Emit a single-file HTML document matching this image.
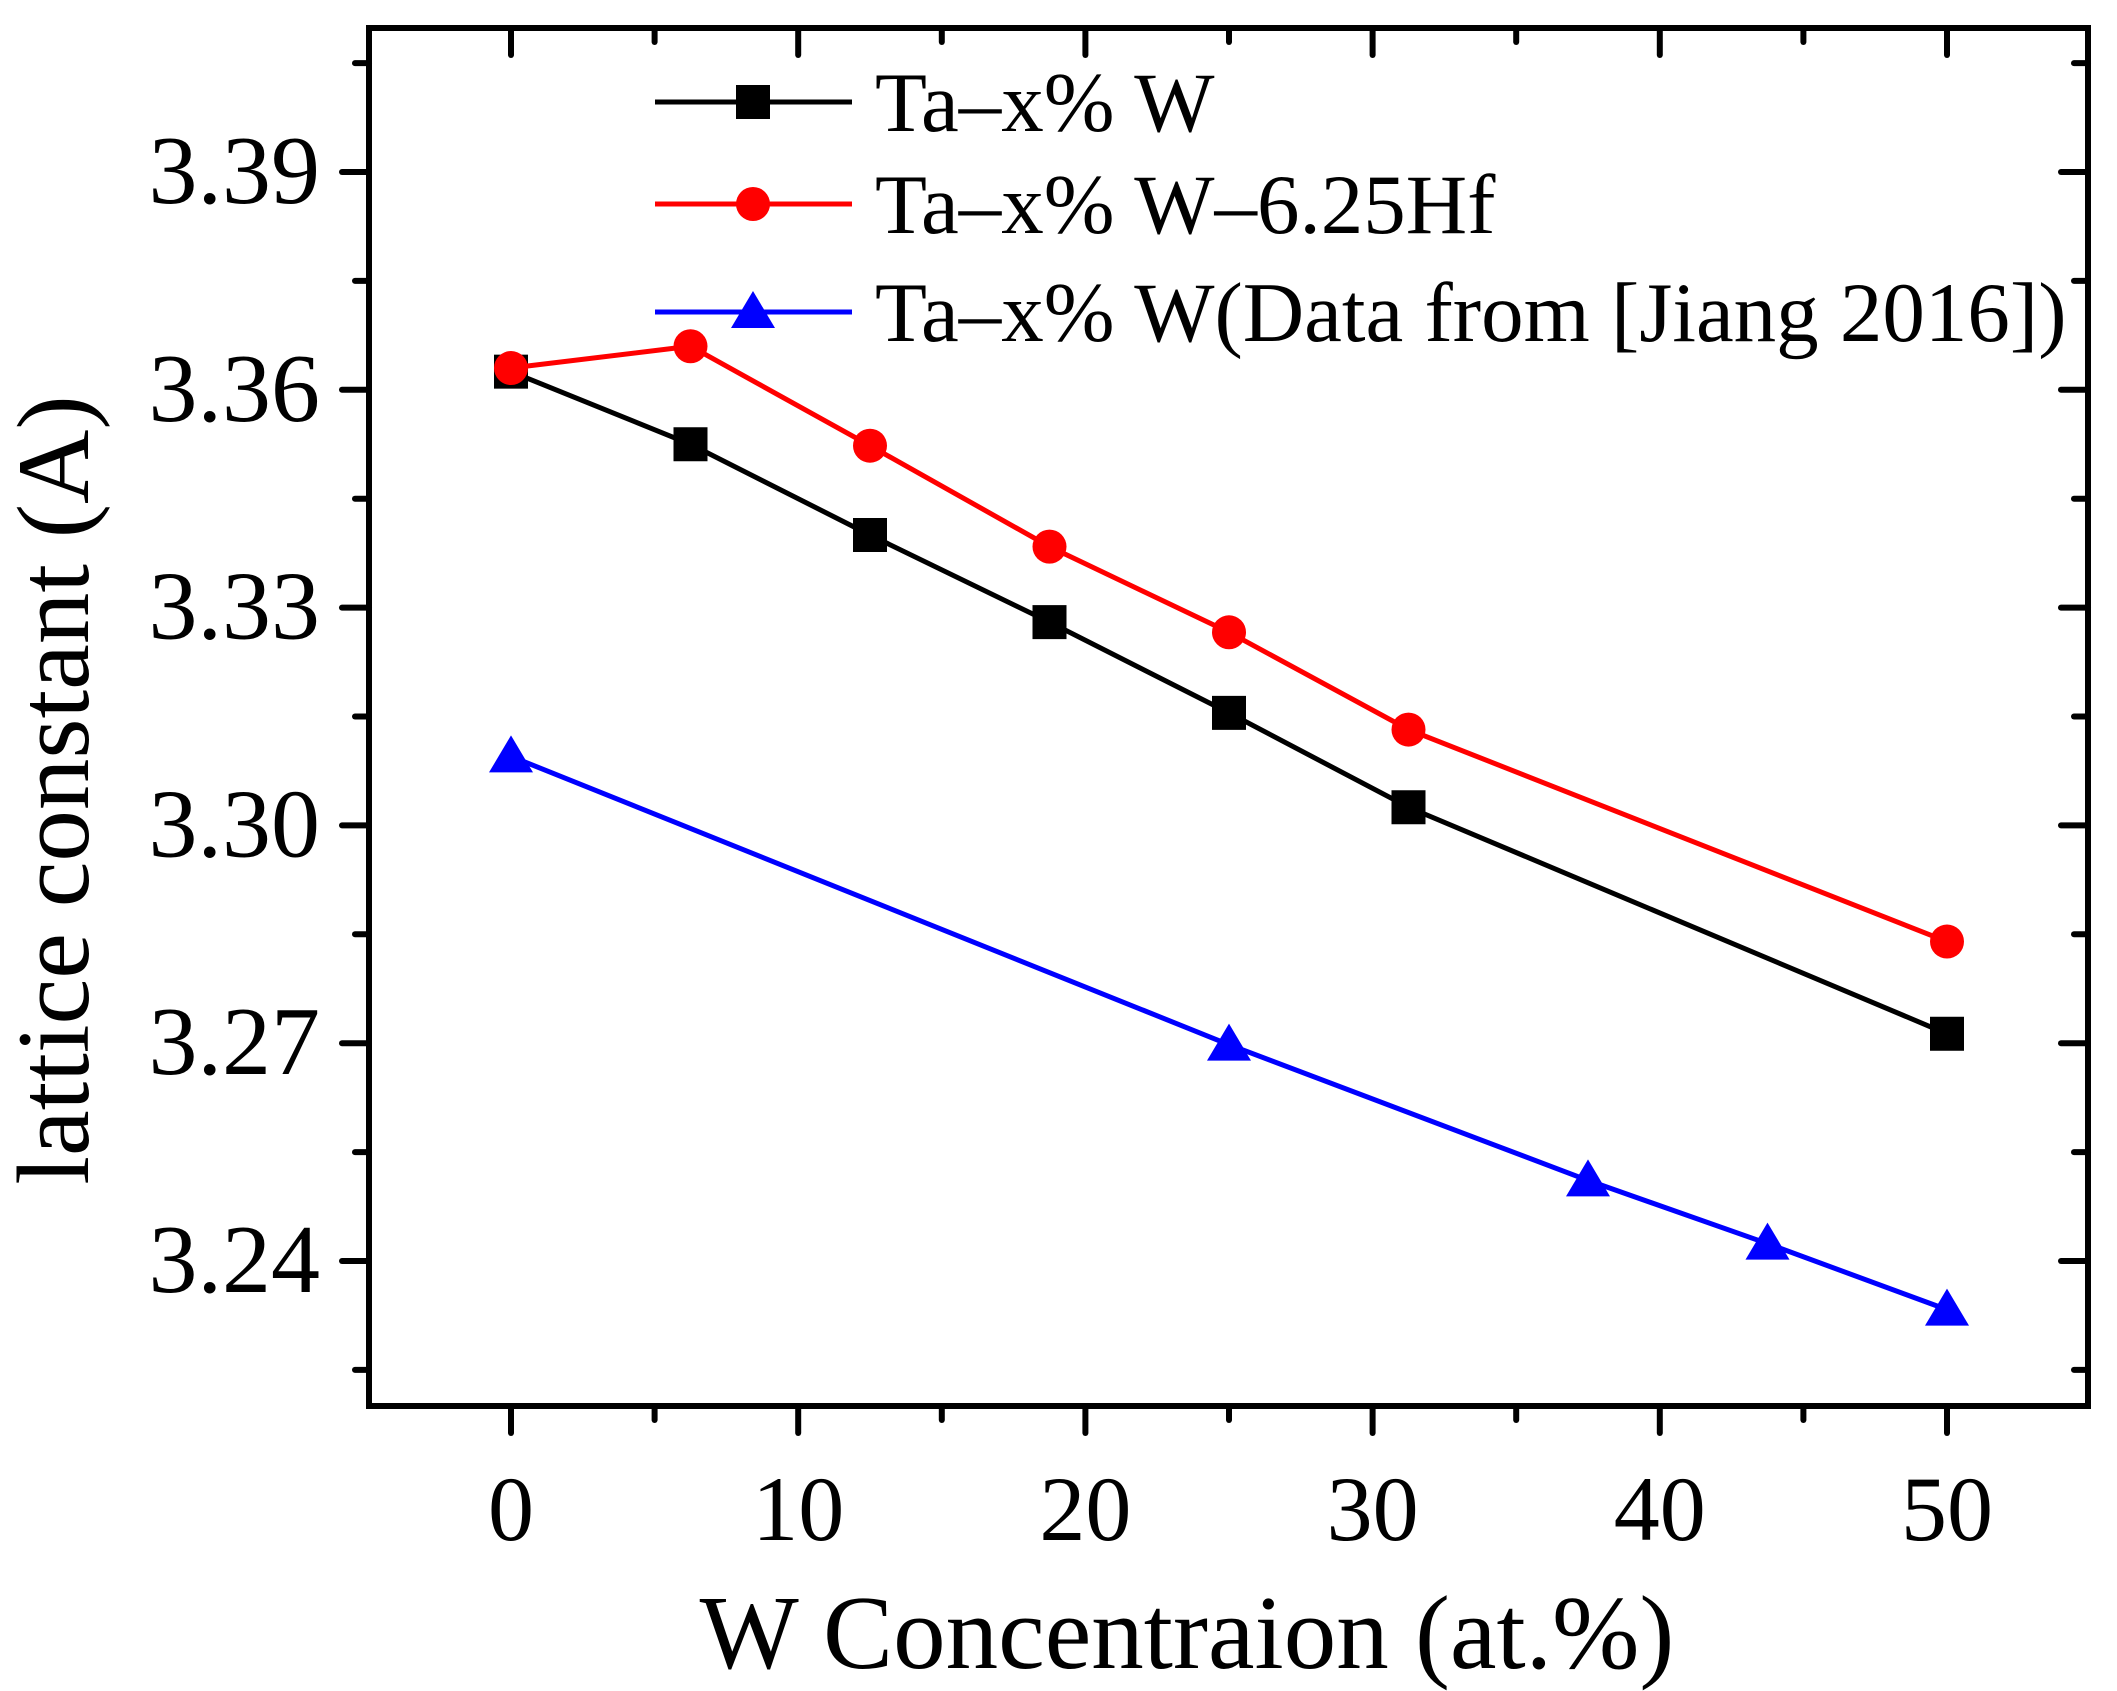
<!DOCTYPE html>
<html><head><meta charset="utf-8"><style>body{margin:0;background:#fff}svg{display:block}text{font-family:"Liberation Serif",serif}</style></head>
<body>
<svg id="c" width="2117" height="1691" viewBox="0 0 2117 1691" xmlns="http://www.w3.org/2000/svg"></svg>
<script>
const xTicks=[0,10,20,30,40,50];
const yTicks=[3.24,3.27,3.30,3.33,3.36,3.39];
const yTickLabels=["3.24","3.27","3.30","3.33","3.36","3.39"];
const xBlack=[0,6.25,12.5,18.75,25,31.25,50];
const yBlack=[3.3625,3.3525,3.340,3.328,3.3155,3.3025,3.2713];
const xRed=[0,6.25,12.5,18.75,25,31.25,50];
const yRed=[3.363,3.366,3.3523,3.3384,3.3266,3.3132,3.284];
const xBlue=[0,25,37.5,43.75,50];
const yBlue=[3.3095,3.2698,3.2511,3.2424,3.2333];
const legendLabels=["Ta\u2013x% W","Ta\u2013x% W\u20136.25Hf","Ta\u2013x% W(Data from [Jiang 2016])"];

const svg=document.getElementById('c');const NS='http://www.w3.org/2000/svg';
const L=369,R=2088,T=28,B=1406;
const X=v=>511+v*28.72;
const Y=v=>172+(3.39-v)/0.03*217.8;
function mk(t,a,p){const e=document.createElementNS(NS,t);for(const k in a)e.setAttribute(k,a[k]);(p||svg).appendChild(e);return e;}
const ax=mk('g',{});


const frame=mk('rect',{x:L,y:T,width:R-L,height:B-T,fill:'none',stroke:'#000','stroke-width':6},ax);


for(let v=-5;v<=55;v+=5){const x=X(v);if(x<L-1||x>R+1)continue;const maj=v%10===0;const len=maj?27:14;
mk('line',{x1:x,y1:B,x2:x,y2:B+len,stroke:'#000','stroke-width':6,'stroke-linecap':'round'},ax);
mk('line',{x1:x,y1:T,x2:x,y2:T+len,stroke:'#000','stroke-width':6,'stroke-linecap':'round'},ax);}
xTicks.forEach(v=>{const t=mk('text',{x:X(v),y:1540,'font-size':92,'text-anchor':'middle'},ax);t.textContent=String(v);

});
for(let i=-3;i<=16;i++){const v=3.24+i*0.015;const y=Y(v);if(y<T-1||y>B+1)continue;const maj=i%2===0;const len=maj?27:14;
mk('line',{x1:L-len,y1:y,x2:L,y2:y,stroke:'#000','stroke-width':6,'stroke-linecap':'round'},ax);
mk('line',{x1:R-len,y1:y,x2:R,y2:y,stroke:'#000','stroke-width':6,'stroke-linecap':'round'},ax);}
yTicks.forEach((v,i)=>{const t=mk('text',{x:320,y:Y(v)+31,'font-size':98,'text-anchor':'end'},ax);t.textContent=yTickLabels[i];

});
const xt=mk('text',{x:1187,y:1668,'font-size':105,'text-anchor':'middle'});xt.textContent='W Concentraion (at.%)';


const yt=mk('text',{x:0,y:0,'font-size':103,'text-anchor':'middle',transform:'translate(88,790) rotate(-90)'});yt.textContent='lattice constant (A)';


function marker(kind,x,y,col,p){
 if(kind==='sq')return mk('rect',{x:x-17,y:y-17,width:34,height:34,fill:col},p);
 if(kind==='ci')return mk('circle',{cx:x,cy:y,r:17,fill:col},p);
 return mk('polygon',{points:`${x},${y-21} ${x+22},${y+16} ${x-22},${y+16}`,fill:col},p);}
function series(xs,ys,col,kind,name){const g=mk('g',{});


mk('polyline',{points:xs.map((v,i)=>X(v)+','+Y(ys[i])).join(' '),fill:'none',stroke:col,'stroke-width':5},g);
xs.forEach((v,i)=>{const m=marker(kind,X(v),Y(ys[i]),col,g);

});}
series(xBlue,yBlue,'#0000ff','tr','series-jiang-2016');
series(xBlack,yBlack,'#000','sq','series-ta-w');
series(xRed,yRed,'#ff0000','ci','series-ta-w-hf');
const lg=mk('g',{});


[['#000','sq'],['#ff0000','ci'],['#0000ff','tr']].forEach((s,i)=>{const y=[102,204,312][i];
const e=mk('g',{},lg);


mk('line',{x1:655,y1:y,x2:852,y2:y,stroke:s[0],'stroke-width':5},e);marker(s[1],753,y,s[0],e);
const t=mk('text',{x:875,y:y+29,'font-size':85},e);t.textContent=legendLabels[i];});
</script>
</body></html>
